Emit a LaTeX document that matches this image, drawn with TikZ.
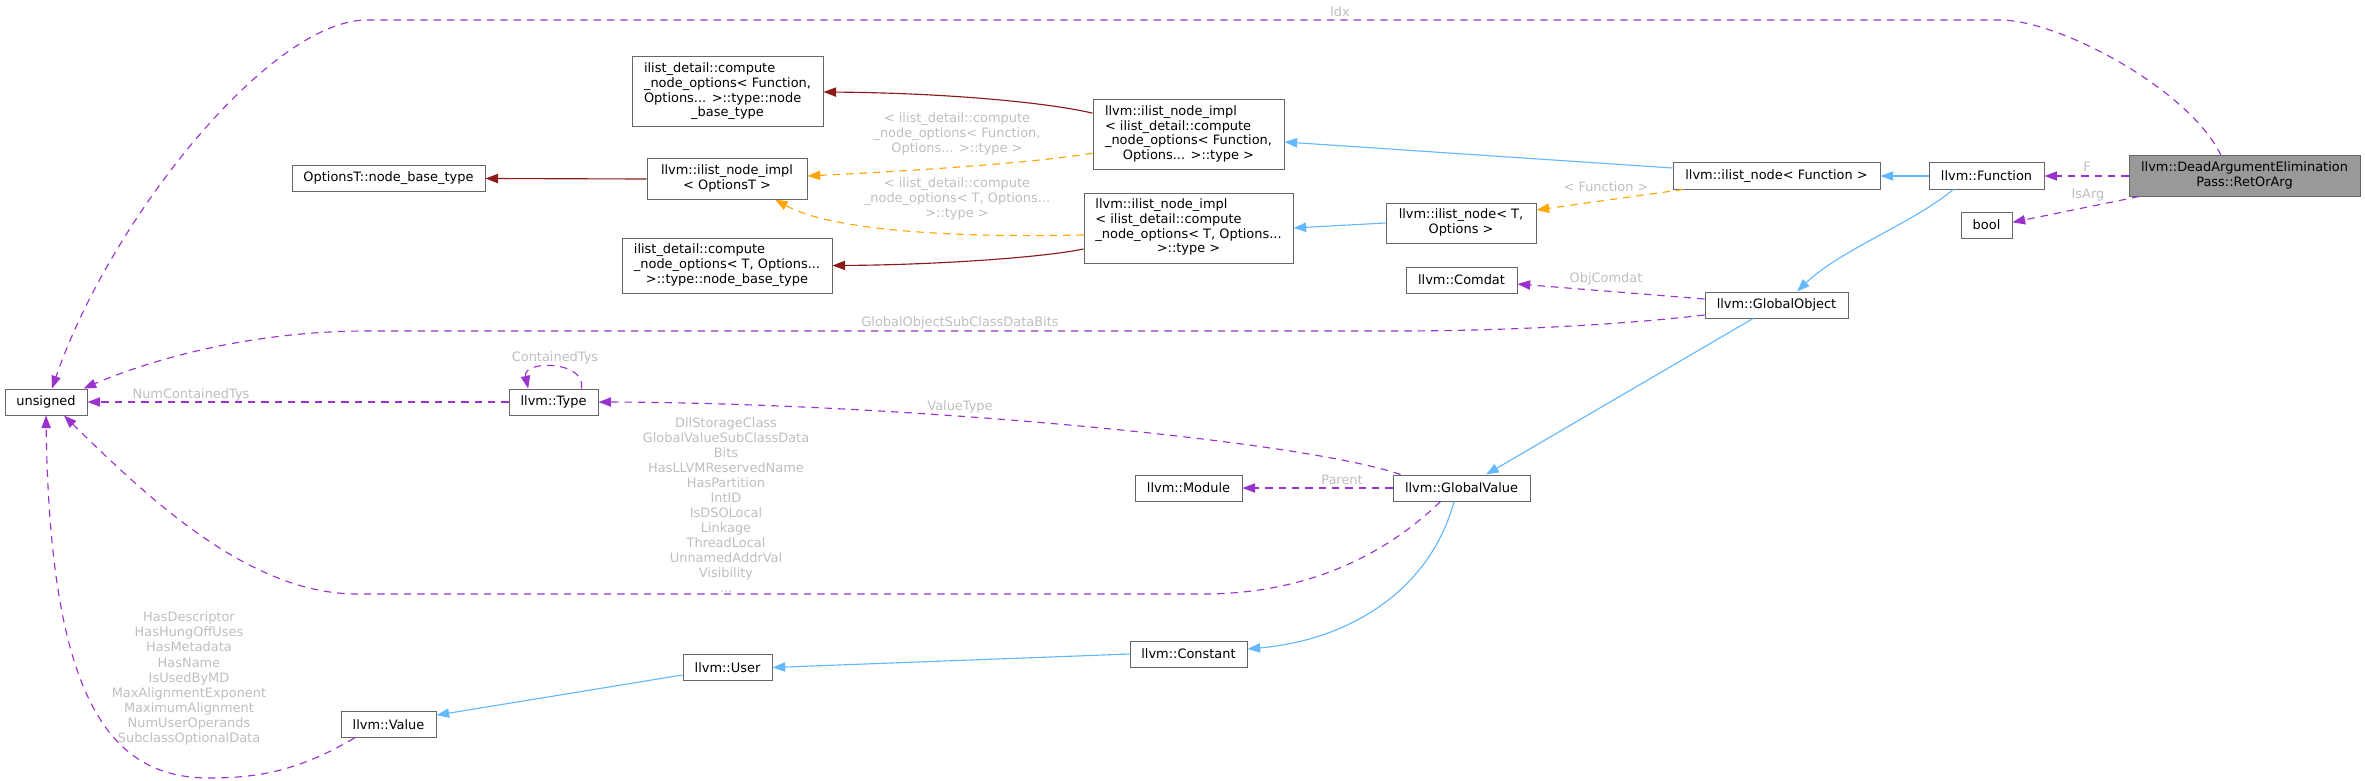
\documentclass[tikz,border=0pt]{standalone}
\usepackage{fontspec}
\setmainfont{DejaVu Sans}
\usetikzlibrary{arrows.meta}
\definecolor{boxborder}{HTML}{666666}
\definecolor{retfill}{HTML}{999999}
\definecolor{edgepurple}{HTML}{9A32CD}
\definecolor{edgeblue}{HTML}{63B8FF}
\definecolor{edgered}{HTML}{8B1A1A}
\definecolor{edgeorange}{HTML}{FFA500}
\definecolor{lblgray}{HTML}{BEBEBE}
\newcommand\lc[1]{\multicolumn{1}{@{}c@{}}{#1}}
\newcommand\tb[1]{\begin{tabular}{@{}l@{}}#1\end{tabular}}
\begin{document}
\begin{tikzpicture}[x=0.75pt,y=-0.75pt,
  box/.style={draw=boxborder, fill=white, line width=0.75pt, inner sep=1pt, font=\fontsize{9.7}{11}\selectfont, text=black, minimum height=19.5pt},
  hh2/.style={minimum height=30pt},
  hh3/.style={minimum height=41.25pt},
  hh4/.style={minimum height=52.5pt},
  lbl/.style={text=lblgray, font=\fontsize{9.7}{11.3}\selectfont, align=center, inner sep=0pt},
  conn/.style={line width=0.85pt, -{Triangle[length=9.5pt,width=7pt]}},
  pe/.style={conn, draw=edgepurple, dash pattern=on 5.5pt off 4.5pt},
  be/.style={conn, draw=edgeblue},
  re/.style={conn, draw=edgered},
  oe/.style={conn, draw=edgeorange, dash pattern=on 5.5pt off 4.5pt}]
\useasboundingbox (0,0) rectangle (2365,781);

% nodes
\node[box, fill=retfill, hh2, minimum width=173.25pt] (retorarg) at (2244.5,176) {\tb{llvm::DeadArgumentElimination\\\lc{Pass::RetOrArg}}};
\node[box, minimum width=86.25pt] (func) at (1986.5,176) {llvm::Function};
\node[box, minimum width=38.25pt] (bool) at (1986.5,225) {bool};
\node[box, minimum width=155.25pt] (ilnF) at (1776.5,176) {llvm::ilist\_node< Function >};
\node[box, hh2, minimum width=112.5pt] (ilnT) at (1461,223) {\tb{llvm::ilist\_node< T,\\\lc{Options >}}};
\node[box, hh4, minimum width=143.25pt] (implF) at (1188.5,134.5) {\tb{llvm::ilist\_node\_impl\\< ilist\_detail::compute\\\_node\_options< Function,\\\lc{Options... >::type >}}};
\node[box, hh4, minimum width=156.75pt] (implT) at (1188.5,228) {\tb{llvm::ilist\_node\_impl\\< ilist\_detail::compute\\\_node\_options< T, Options...\\\lc{>::type >}}};
\node[box, hh4, minimum width=143.25pt] (detF) at (727.5,92) {\tb{ilist\_detail::compute\\\_node\_options< Function,\\Options... >::type::node\\\lc{\_base\_type}}};
\node[box, hh3, minimum width=157.5pt] (detT) at (727,265.5) {\tb{ilist\_detail::compute\\\_node\_options< T, Options...\\\lc{>::type::node\_base\_type}}};
\node[box, hh2, minimum width=120pt] (implO) at (727,179) {\tb{llvm::ilist\_node\_impl\\\lc{< OptionsT >}}};
\node[box, minimum width=144.75pt] (optbase) at (388.5,178.5) {OptionsT::node\_base\_type};
\node[box, minimum width=83.25pt] (comdat) at (1461.5,280) {llvm::Comdat};
\node[box, minimum width=107.25pt] (gobj) at (1776.5,305) {llvm::GlobalObject};
\node[box, minimum width=61.5pt] (unsigned) at (46,402) {unsigned};
\node[box, minimum width=66.75pt] (type) at (553.5,402) {llvm::Type};
\node[box, minimum width=80.25pt] (module) at (1188.5,488) {llvm::Module};
\node[box, minimum width=102.75pt] (gval) at (1461.5,488) {llvm::GlobalValue};
\node[box, minimum width=87.75pt] (constant) at (1188.5,654) {llvm::Constant};
\node[box, minimum width=66.75pt] (user) at (727.5,667.5) {llvm::User};
\node[box, minimum width=71.25pt] (value) at (388.5,724.5) {llvm::Value};

% edges
\draw[pe] (retorarg.west) -- (func.east);
\draw[pe] ([xshift=8pt]retorarg.south west) -- ([yshift=2pt]bool.east);
\draw[pe] ([xshift=-17.6pt]retorarg.north) .. controls (2190,90) and (2060,20) .. (2000,20) -- (367,20) .. controls (270,20) and (110,220) .. ([xshift=4.5pt]unsigned.north);
\draw[be] (func.west) -- (ilnF.east);
\draw[be] ([xshift=-25pt]func.south) .. controls (1915,222) and (1840,250) .. ([xshift=15.4pt]gobj.north);
\draw[be] ([yshift=6pt]ilnF.west) -- ([yshift=-5.6pt]implF.east);
\draw[oe] ([xshift=8pt]ilnF.south west) -- ([yshift=9.75pt]ilnT.east);
\draw[be] (ilnT.west) -- (implT.east);
\draw[re] ([yshift=16pt]implF.west) .. controls (1050,103) and (950,93) .. (detF.east);
\draw[oe] ([yshift=-14pt]implF.west) .. controls (1040,162) and (930,170) .. ([yshift=2.25pt]implO.east);
\draw[oe] ([yshift=-5.25pt]implT.west) .. controls (950,238) and (830,230) .. ([xshift=36pt]implO.south);
\draw[re] ([yshift=-15.75pt]implT.west) .. controls (1040,258) and (930,265) .. (detT.east);
\draw[re] (implO.west) -- (optbase.east);
\draw[pe] ([yshift=4.5pt]gobj.west) -- ([yshift=-3pt]comdat.east);
\draw[pe] ([yshift=-7.5pt]gobj.west) .. controls (1620,325) and (1500,331) .. (1400,331) -- (367,331) .. controls (250,331) and (150,360) .. ([xshift=-3pt]unsigned.north east);
\draw[be] ([xshift=-17.6pt]gobj.south) -- ([xshift=18.4pt]gval.north);
\draw[pe] ([xshift=6pt]gval.north west) .. controls (1300,440) and (900,403) .. (type.east);
\draw[pe] (type.west) -- (unsigned.east);
\draw[pe] ([xshift=21pt]type.north) .. controls (586,360) and (522,360) .. ([xshift=-19pt]type.north);
\draw[pe] (gval.west) -- (module.east);
\draw[pe] ([xshift=36pt]gval.south west) .. controls (1380,560) and (1300,594) .. (1203,594) -- (357,594) .. controls (250,594) and (150,500) .. ([xshift=13.5pt]unsigned.south);
\draw[be] ([xshift=-5.6pt]gval.south) .. controls (1430,590) and (1350,640) .. ([yshift=3.75pt]constant.east);
\draw[be] (constant.west) -- (user.east);
\draw[be] ([yshift=-5.6pt]user.west) -- ([yshift=7pt]value.east);
\draw[pe] ([xshift=10.5pt]value.south west) .. controls (300,770) and (260,778) .. (209,778) .. controls (110,778) and (50,700) .. (unsigned.south);

% labels
\node[lbl] (lIdx) at (1340,12) {Idx};
\node[lbl] (lF) at (2087,167) {F};
\node[lbl] (lIsArg) at (2088,195) {IsArg};
\node[lbl] (lFunc) at (1606,187) {< Function >};
\node[lbl] (lImplF) at (957,134) {< ilist\_detail::compute\\\_node\_options< Function,\\Options... >::type >};
\node[lbl] (lImplT) at (957,199) {< ilist\_detail::compute\\\_node\_options< T, Options...\\>::type >};
\node[lbl] (lComdat) at (1606,279) {ObjComdat};
\node[lbl] (lGOSC) at (960,323) {GlobalObjectSubClassDataBits};
\node[lbl] (lCont) at (555,358) {ContainedTys};
\node[lbl] (lNum) at (191,395) {NumContainedTys};
\node[lbl] (lVT) at (960,407) {ValueType};
\node[lbl] (lParent) at (1342,480) {Parent};
\node[lbl] (lGV) at (726,505) {DllStorageClass\\GlobalValueSubClassData\\Bits\\HasLLVMReservedName\\HasPartition\\IntID\\IsDSOLocal\\Linkage\\ThreadLocal\\UnnamedAddrVal\\Visibility\\...};
\node[lbl] (lVal) at (189,678.5) {HasDescriptor\\HasHungOffUses\\HasMetadata\\HasName\\IsUsedByMD\\MaxAlignmentExponent\\MaximumAlignment\\NumUserOperands\\SubclassOptionalData};
\end{tikzpicture}
\end{document}
